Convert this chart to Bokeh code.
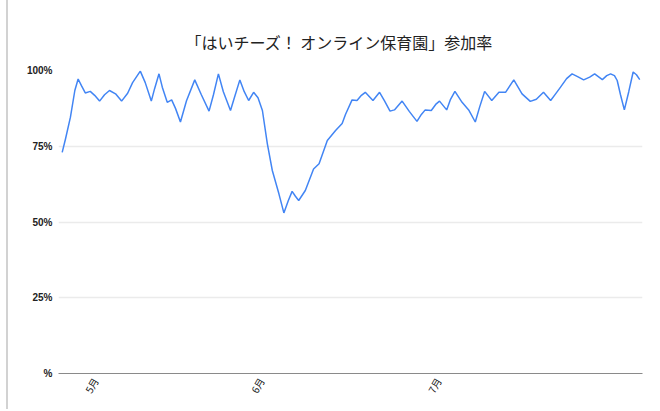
import math
from bokeh.plotting import figure
from bokeh.models import Range1d, FixedTicker
from bokeh.embed import file_html
from bokeh.resources import INLINE

title_text = "「はいチーズ！ オンライン保育園」参加率"

# record position (one unit per record) and participation rate (%)
record_pos = [0, 0.6, 1.5, 2.3, 2.9, 3.5, 4.2, 5.1, 5.9, 6.8, 7.7, 8.6, 9.7, 10.8,
              11.9, 12.8, 14.2, 15.1, 16.2, 16.8, 17.6, 18.2, 19.1, 19.9, 20.6,
              21.5, 22.6, 24.1, 25.3, 26.7, 27.5, 28.4, 29.3, 30.6, 31.3, 32.3,
              33.1, 33.9, 34.8, 35.6, 36.4, 37.3, 38.2, 39.4, 40.3, 41.1, 41.8,
              42.4, 43.0, 44.2, 45.7, 46.7, 48.2, 49.7, 50.9, 51.5, 52.7, 53.6,
              54.4, 55.1, 56.5, 57.7, 58.6, 59.6, 60.4, 61.8, 63.1, 64.5, 65.3,
              66.0, 67.1, 67.9, 68.6, 69.9, 70.6, 71.4, 72.7, 73.9, 75.1, 75.9,
              76.8, 78.1, 79.4, 80.6, 82.1, 83.6, 85.1, 86.2, 87.5, 88.8, 89.7,
              90.6, 91.7, 92.7, 93.7, 94.8, 95.9, 96.8, 98.2, 99.0, 99.7, 100.4,
              100.9, 101.5, 102.2, 103.0, 103.8, 104.4, 105.0]
rate = [73.0, 77.4, 84.6, 93.4, 97.2, 95.0, 92.6, 93.1, 91.8, 89.9, 92.0, 93.4, 92.3,
        89.9, 92.5, 96.0, 99.8, 96.0, 89.9, 94.0, 98.9, 94.5, 89.5, 90.3, 87.5,
        83.0, 90.0, 96.9, 92.0, 86.6, 92.0, 98.9, 93.0, 86.8, 91.0, 96.9,
        93.0, 90.1, 92.8, 91.0, 86.8, 75.8, 67.0, 59.3, 53.0, 57.0, 60.1,
        58.5, 57.1, 60.4, 67.5, 69.2, 76.9, 80.2, 82.5, 85.5, 90.3, 90.1,
        91.8, 92.8, 90.1, 92.8, 90.0, 86.6, 87.0, 89.9, 86.5, 83.2, 85.5,
        87.0, 86.8, 88.8, 89.9, 87.0, 90.5, 93.1, 89.5, 87.0, 83.0, 88.0,
        93.1, 90.1, 92.8, 92.8, 96.9, 92.3, 89.8, 90.5, 92.8, 90.1, 92.3,
        94.5, 97.3, 98.9, 98.0, 96.9, 97.8, 98.9, 97.0, 98.3, 98.9, 98.3,
        96.7, 92.0, 87.0, 93.0, 99.5, 98.6, 97.0]

month_pos = [6.05, 36.2, 68.4]
month_labels = ["5月", "6月", "7月"]
y_ticks = [0, 25, 50, 75, 100]
y_tick_labels = ["%", "25%", "50%", "75%", "100%"]

p = figure(width=644, height=409, output_backend="svg", toolbar_location=None,
           x_range=Range1d(-0.67, 105.5), y_range=Range1d(0, 100),
           min_border_left=50, min_border_right=10, min_border_top=70,
           min_border_bottom=36, title=title_text)
p.styles = {"margin-left": "6px", "border-left": "2px solid #d2d2d2"}
p.outline_line_color = None
p.background_fill_color = "white"
p.border_fill_color = "white"

p.title.align = "left"
p.title.offset = 127
p.title.text_font = "Noto Sans CJK JP"
p.title.text_font_size = "16px"
p.title.text_font_style = "normal"
p.title.text_color = "#222222"
p.title.standoff = 34

p.line(record_pos, rate, line_color="#4285F4", line_width=1.5)

p.xgrid.visible = False
p.ygrid.ticker = FixedTicker(ticks=y_ticks)
p.ygrid.grid_line_color = "#ebebeb"
p.ygrid.grid_line_width = 1.5

p.yaxis.ticker = FixedTicker(ticks=y_ticks)
p.yaxis.major_label_overrides = dict(zip(y_ticks, y_tick_labels))
p.yaxis.axis_line_color = None
p.yaxis.major_tick_line_color = None
p.yaxis.minor_tick_line_color = None
p.yaxis.major_tick_out = 0
p.yaxis.major_label_standoff = 6
p.yaxis.major_label_text_font = "Liberation Sans"
p.yaxis.major_label_text_font_style = "bold"
p.yaxis.major_label_text_font_size = "10px"
p.yaxis.major_label_text_color = "#222222"

p.xaxis.ticker = FixedTicker(ticks=month_pos)
p.xaxis.major_label_overrides = dict(zip(month_pos, month_labels))
p.xaxis.axis_line_color = "#8a8a8a"
p.xaxis.axis_line_width = 1
p.xaxis.major_tick_line_color = None
p.xaxis.minor_tick_line_color = None
p.xaxis.major_tick_out = 0
p.xaxis.major_label_standoff = 5
p.xaxis.major_label_orientation = math.pi / 3
p.xaxis.major_label_text_font = "Noto Sans CJK JP"
p.xaxis.major_label_text_font_size = "10px"
p.xaxis.major_label_text_color = "#222222"

open("out.html", "w").write(file_html(p, INLINE))
